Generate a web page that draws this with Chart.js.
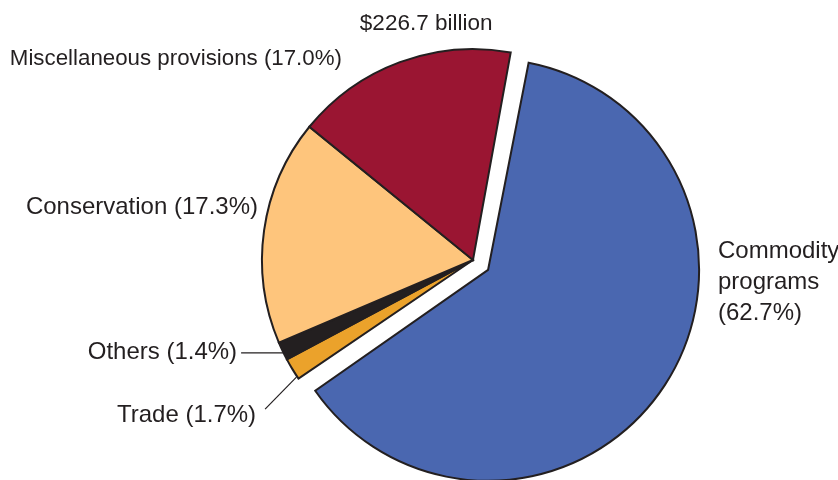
<!DOCTYPE html>
<html>
<head>
<meta charset="utf-8">
<script src="https://cdn.jsdelivr.net/npm/chart.js@4/dist/chart.umd.min.js"></script>
<style>
  html, body { margin: 0; padding: 0; background: #fff; }
  #wrap { width: 838px; height: 480px; }
</style>
</head>
<body>
<div id="wrap"><canvas id="pieChart" width="838" height="480"></canvas></div>
<script>
// Data (share of $226.7 billion)
const categories = ['Commodity programs', 'Trade', 'Others', 'Conservation', 'Miscellaneous provisions'];
const shares = [62.7, 1.7, 1.4, 17.3, 17.0];
const labelLines = [
    ['Commodity', 'programs', '(62.7%)'],
    ['Trade (1.7%)'],
    ['Others (1.4%)'],
    ['Conservation (17.3%)'],
    ['Miscellaneous provisions (17.0%)']
];
const totalLabel = '$226.7 billion';

const sliceColors = ['#4a67b0', '#eba22b', '#231f20', '#fec57c', '#9a1532'];
const textColor = '#231f20';
const fontFamily = '"Liberation Sans", Arial, Helvetica, sans-serif';

// label placement, relative to the pie centre in units of the radius
// [fx, fy, align, leader, fontSize]
const labelPlacement = [
    [1.161, -0.04, 'left', null, 24],
    [-1.028, 0.735, 'right', 'diag', 24],
    [-1.118, 0.44, 'right', 'flat', 24],
    [-1.019, -0.25, 'right', null, 24],
    [-0.621, -0.955, 'right', null, 22.3]
];
const totalPlacement = [-0.222, -1.12, 22.5];

// Chart.js pushes an offset slice out by offset/4 and also grows it by the same;
// keep the exploded slice the same size as the others
const keepRadius = {
    id: 'keepRadius',
    afterUpdate(chart) {
        chart.getDatasetMeta(0).data.forEach(arc => {
            const off = (arc.options.offset || 0) / 4;
            if (off) {
                const fix = 1 - Math.sin(Math.min(Math.PI, arc.circumference || 0));
                arc.outerRadius -= off * fix;
            }
        });
    }
};

// Draw the text labels and leader lines
const pieLabels = {
    id: 'pieLabels',
    afterDatasetsDraw(chart) {
        const ctx = chart.ctx;
        const meta = chart.getDatasetMeta(0);
        const r = meta.controller.outerRadius;
        const arcs = meta.data;
        ctx.save();
        ctx.fillStyle = textColor;
        ctx.strokeStyle = textColor;
        ctx.lineWidth = 1.2;
        ctx.textBaseline = 'middle';

        arcs.forEach((arc, i) => {
            const {x, y, startAngle, endAngle} = arc;
            const [fx, fy, align, leader, size] = labelPlacement[i];
            const tx = x + fx * r;
            const ty = y + fy * r;
            ctx.font = size + 'px ' + fontFamily;
            ctx.textAlign = align;
            labelLines[i].forEach((line, k) => {
                ctx.fillText(line, tx, ty + k * 31);
            });

            if (leader) {
                const mid = (startAngle + endAngle) / 2;
                const ax = x + Math.cos(mid) * r;
                const ay = y + Math.sin(mid) * r;
                ctx.beginPath();
                if (leader === 'flat') {
                    ctx.moveTo(ax + 2, ty);
                    ctx.lineTo(tx + 4, ty);
                } else {
                    ctx.moveTo(ax + 4, ay + 8);
                    ctx.lineTo(tx + 9, ty - 6);
                }
                ctx.stroke();
            }
        });

        const c = arcs[1];
        ctx.font = totalPlacement[2] + 'px ' + fontFamily;
        ctx.textAlign = 'center';
        ctx.fillText(totalLabel, c.x + totalPlacement[0] * r, c.y + totalPlacement[1] * r);
        ctx.restore();
    }
};

new Chart(document.getElementById('pieChart'), {
    type: 'pie',
    data: {
        labels: categories,
        datasets: [{
            data: shares,
            backgroundColor: sliceColors,
            borderColor: '#231f20',
            borderWidth: 2,
            borderJoinStyle: 'miter',
            offset: [72, 0, 0, 0, 0]
        }]
    },
    options: {
        responsive: false,
        animation: false,
        rotation: 10.3,
        radius: 211,
        layout: {
            padding: { left: 108, right: 0, top: 40, bottom: 0 }
        },
        plugins: {
            legend: { display: false },
            tooltip: { enabled: false }
        }
    },
    plugins: [keepRadius, pieLabels]
});
</script>
</body>
</html>
